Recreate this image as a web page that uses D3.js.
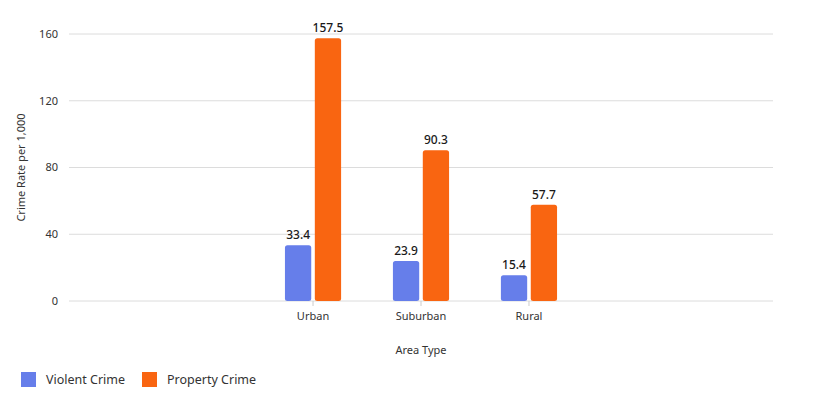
<!DOCTYPE html>
<html>
<head>
<meta charset="utf-8">
<script src="https://cdn.jsdelivr.net/npm/d3@7"></script>
<style>
  body { margin: 0; background: #fff; }
  svg { font-family: "Noto Sans", "Open Sans", sans-serif; }
</style>
</head>
<body>
<svg id="chart" width="813" height="399"></svg>
<script>
  var categories = ["Urban", "Suburban", "Rural"];
  var seriesNames = ["Violent Crime", "Property Crime"];
  var violent = [33.4, 23.9, 15.4];
  var property = [157.5, 90.3, 57.7];
  var yTicks = [0, 40, 80, 120, 160];
  var colors = ["#667eea", "#f96511"];

  var svg = d3.select("#chart"),
      margin = {top: 34, right: 40, bottom: 98, left: 69},
      width = +svg.attr("width") - margin.left - margin.right,
      height = +svg.attr("height") - margin.top - margin.bottom;

  var data = categories.map(function(c, i) {
    return {cat: c, values: [violent[i], property[i]]};
  });

  var x = d3.scaleBand().domain(categories).range([0, width])
      .paddingInner(0.48).paddingOuter(2.0);
  var x1 = d3.scaleBand().domain([0, 1]).range([0, x.bandwidth()]).paddingInner(0.12);
  var y = d3.scaleLinear().domain([0, 160]).range([height, 0]);

  var g = svg.append("g")
      .attr("transform", "translate(" + margin.left + "," + margin.top + ")");

  // gridlines
  g.append("g").selectAll("line")
      .data(yTicks)
    .enter().append("line")
      .attr("x1", 0).attr("x2", width)
      .attr("y1", function(d) { return y(d); })
      .attr("y2", function(d) { return y(d); })
      .attr("stroke", "#dcdcdc").attr("stroke-width", 1);

  // y labels
  g.append("g").selectAll("text")
      .data(yTicks)
    .enter().append("text")
      .attr("x", -11)
      .attr("y", function(d) { return y(d); })
      .attr("dy", "0.35em")
      .attr("text-anchor", "end")
      .attr("font-size", 11)
      .attr("fill", "#333")
      .text(function(d) { return d; });

  // x axis
  var xAxis = g.append("g")
      .attr("transform", "translate(0," + height + ")")
      .call(d3.axisBottom(x).tickSize(5).tickPadding(6));
  xAxis.select(".domain").remove();
  xAxis.selectAll(".tick line").attr("stroke", "#ccc");
  xAxis.selectAll(".tick text").attr("font-size", 11).attr("fill", "#333")
      .attr("font-family", "Noto Sans, sans-serif");

  // bars
  var groups = g.append("g").selectAll("g")
      .data(data)
    .enter().append("g")
      .attr("transform", function(d) { return "translate(" + x(d.cat) + ",0)"; });

  groups.selectAll("rect")
      .data(function(d) { return d.values.map(function(v, i) { return {i: i, v: v}; }); })
    .enter().append("rect")
      .attr("x", function(d) { return x1(d.i); })
      .attr("y", function(d) { return y(d.v); })
      .attr("width", x1.bandwidth())
      .attr("height", function(d) { return height - y(d.v); })
      .attr("rx", 2.5)
      .attr("fill", function(d) { return colors[d.i]; });

  groups.selectAll("text")
      .data(function(d) { return d.values.map(function(v, i) { return {i: i, v: v}; }); })
    .enter().append("text")
      .attr("x", function(d) { return x1(d.i) + x1.bandwidth() / 2; })
      .attr("y", function(d) { return y(d.v) - 6; })
      .attr("text-anchor", "middle")
      .attr("font-size", 12)
      .attr("font-weight", 500)
      .attr("fill", "#1a1a1a")
      .text(function(d) { return d.v.toFixed(1); });

  // axis titles
  svg.append("text")
      .attr("transform", "translate(25," + (margin.top + height / 2) + ") rotate(-90)")
      .attr("text-anchor", "middle")
      .attr("font-size", 11)
      .attr("fill", "#333")
      .text("Crime Rate per 1,000");

  svg.append("text")
      .attr("x", margin.left + width / 2)
      .attr("y", 354)
      .attr("text-anchor", "middle")
      .attr("font-size", 11)
      .attr("fill", "#333")
      .text("Area Type");

  // legend
  var legendX = [21, 142];
  var legend = svg.append("g").selectAll("g")
      .data(seriesNames)
    .enter().append("g")
      .attr("transform", function(d, i) { return "translate(" + legendX[i] + ",372)"; });
  legend.append("rect")
      .attr("width", 15).attr("height", 15)
      .attr("fill", function(d, i) { return colors[i]; });
  legend.append("text")
      .attr("x", 25).attr("y", 8)
      .attr("dy", "0.35em")
      .attr("font-size", 12.5)
      .attr("fill", "#333")
      .text(function(d) { return d; });
</script>
</body>
</html>
